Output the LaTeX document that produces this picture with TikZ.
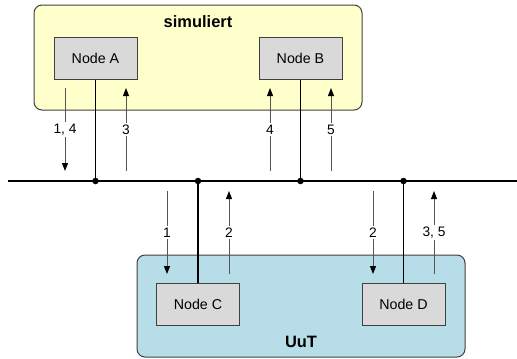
\documentclass[tikz,border=0pt]{standalone}
\usepackage{fontspec}
\setmainfont{Liberation Sans}
\usetikzlibrary{arrows.meta}
\definecolor{simfill}{HTML}{FFFFCC}
\definecolor{uutfill}{HTML}{B7DDE8}
\definecolor{nodefill}{HTML}{D9D9D9}
\definecolor{edgegray}{HTML}{404040}
\definecolor{arrgray}{HTML}{555555}
\tikzset{
  groupbox/.style={draw=edgegray, line width=1bp, rounded corners=8bp},
  nodebox/.style={draw=edgegray, line width=1bp, fill=nodefill, minimum width=83bp, minimum height=42bp, inner sep=0pt, font=\fontsize{14.3}{16}\selectfont},
  busline/.style={line width=2bp, black},
  tapline/.style={line width=1.4bp, black},
  msg/.style={draw=arrgray, line width=1bp, -{Triangle[length=8bp,width=6bp,fill=black,color=black]}},
  msglabel/.style={fill=white, inner sep=1.5bp, font=\fontsize{13.8}{16}\selectfont},
  dotnode/.style={circle, fill=black, inner sep=0pt, minimum size=6.5bp},
  title/.style={font=\bfseries\fontsize{16.5}{19}\selectfont, inner sep=0pt}
}
\begin{document}
\begin{tikzpicture}[x=1bp,y=-1bp]
\useasboundingbox (0,0) rectangle (517,358);
% group boxes
\draw[groupbox, fill=simfill] (34,5) rectangle (362,110);
\draw[groupbox, fill=uutfill] (137,255) rectangle (465,357);
\node[title] (sim) at (198,22) {simuliert};
\node[title] (uut) at (301,342) {UuT};
% nodes
\node[nodebox] (A) at (95.5,58) {Node A};
\node[nodebox] (B) at (300.5,58) {Node B};
\node[nodebox] (C) at (198,304.5) {Node C};
\node[nodebox] (D) at (403.5,304.5) {Node D};
% bus
\coordinate (busL) at (8,181);
\coordinate (busR) at (517,181);
\draw[busline] (busL) -- (busR);
\node[dotnode] (dA) at (95.5,181) {};
\node[dotnode] (dC) at (198,181) {};
\node[dotnode] (dB) at (300.5,181) {};
\node[dotnode] (dD) at (403.5,181) {};
\draw[tapline] (A.south) -- (dA.center);
\draw[tapline] (B.south) -- (dB.center);
\draw[tapline] (C.north) -- (dC.center);
\draw[tapline] (D.north) -- (dD.center);
% message arrows (upper)
\coordinate (m1s) at (65,88);   \coordinate (m1e) at (65,171);
\coordinate (m3s) at (126,171); \coordinate (m3e) at (126,88);
\coordinate (m4s) at (270,171); \coordinate (m4e) at (270,88);
\coordinate (m5s) at (331,171); \coordinate (m5e) at (331,88);
\draw[msg] (m1s) -- node[msglabel] (l14) {1, 4} (m1e);
\draw[msg] (m3s) -- node[msglabel] (l3) {3} (m3e);
\draw[msg] (m4s) -- node[msglabel] (l4) {4} (m4e);
\draw[msg] (m5s) -- node[msglabel] (l5) {5} (m5e);
% message arrows (lower)
\coordinate (n1s) at (167,191);   \coordinate (n1e) at (167,274);
\coordinate (n2s) at (229,274);   \coordinate (n2e) at (229,191);
\coordinate (n3s) at (373,191);   \coordinate (n3e) at (373,274);
\coordinate (n4s) at (434,274);   \coordinate (n4e) at (434,191);
\draw[msg] (n1s) -- node[msglabel] (k1) {1} (n1e);
\draw[msg] (n2s) -- node[msglabel] (k2) {2} (n2e);
\draw[msg] (n3s) -- node[msglabel] (k3) {2} (n3e);
\draw[msg] (n4s) -- node[msglabel] (k4) {3, 5} (n4e);
\end{tikzpicture}
\end{document}
